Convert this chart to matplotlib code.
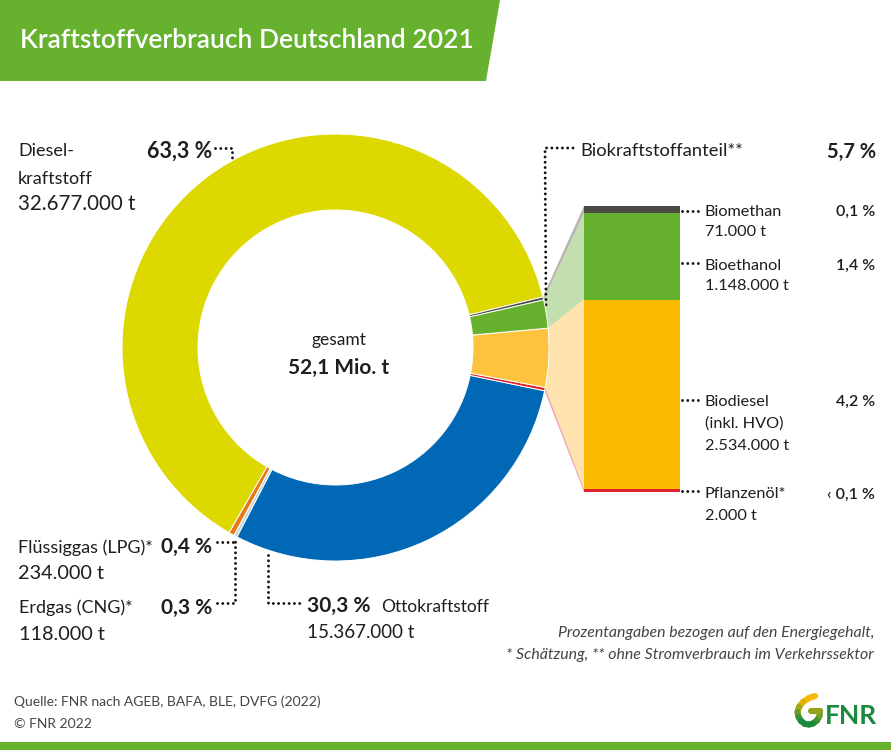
import numpy as np
import matplotlib.pyplot as plt
from matplotlib.collections import LineCollection
from matplotlib.colors import to_rgb

# Shares of the ring as drawn in the picture (percent of the circle)
ring_names = ['Diesel', 'LPG', 'CNG', 'Otto', 'Pflanzenoel', 'Biodiesel', 'Bioethanol', 'Biomethan']
ring_shares = [62.86, 0.42, 0.25, 29.36, 0.25, 4.44, 2.14, 0.22]
ring_colors = ['#DCD800', '#E67817', '#C3D8D6', '#0068B4', '#E2232B', '#FDC23E', '#66B22E', '#4A4A45']

# Bar on the right, top to bottom, heights as drawn
bar_names = ['Biomethan', 'Bioethanol', 'Biodiesel', 'Pflanzenoel']
bar_values = [95000, 1148000, 2510000, 40000]
bar_colors = ['#4A4A45', '#66B22E', '#FCBA00', '#E2232B']

GREEN = '#66B22E'
TEXT = '#1E1E1E'
W, H = 891, 750
CX, CY, R_OUT, R_IN = 335.5, 347.5, 213.5, 137.5
START = 13.7
BAR_L, BAR_R, BAR_T, BAR_B = 584, 680, 206, 492

plt.rcParams['font.family'] = ['Lato', 'DejaVu Sans']

fig = plt.figure(figsize=(W / 100, H / 100), dpi=100, facecolor='white')
ax = fig.add_axes([0, 0, 1, 1])
ax.set_xlim(0, W)
ax.set_ylim(H, 0)
ax.axis('off')

# Title banner and footer
ax.fill([0, 500, 486, 0], [0, 0, 81, 81], color=GREEN, lw=0)
ax.fill([0, W, W, 0], [742, 742, H, H], color=GREEN, lw=0)
ax.text(20, 40, 'Kraftstoffverbrauch Deutschland 2021', color='white', fontsize=19,
        fontweight='semibold', va='center')

# Ring
size = 2 * R_OUT * 1.25
pie_ax = fig.add_axes([(CX - size / 2) / W, 1 - (CY + size / 2) / H, size / W, size / H])
pie_ax.pie(ring_shares, colors=ring_colors, startangle=START, counterclock=True, radius=1,
           wedgeprops=dict(width=1 - R_IN / R_OUT, edgecolor='white', linewidth=0.7))
pie_ax.set_xlim(-1.25, 1.25)
pie_ax.set_ylim(-1.25, 1.25)

# Bar
bar_ax = fig.add_axes([BAR_L / W, 1 - BAR_B / H, (BAR_R - BAR_L) / W, (BAR_B - BAR_T) / H])
bottom = 0
bar_edges = [0]
for value, color in zip(bar_values, bar_colors):
    bar_ax.bar(0, value, bottom=bottom, width=1, color=color, lw=0)
    bottom += value
    bar_edges.append(bottom)
bar_ax.set_xlim(-0.5, 0.5)
bar_ax.set_ylim(bottom, 0)
bar_ax.axis('off')


def bar_y(v):
    return BAR_T + (BAR_B - BAR_T) * v / bottom


# Connectors between ring and bar, taken from the slice angles and bar edges
total = sum(ring_shares)
ends = START + np.cumsum(ring_shares) * 360 / total
a_bm0, a_bm1 = ends[6], ends[7]
a_et0 = ends[5]
a_bd0 = ends[4]
a_pf0 = ends[3]


def arc(a0, a1):
    t = np.radians(np.linspace(a0, a1, 30))
    return CX + R_OUT * np.cos(t), CY - R_OUT * np.sin(t)


def link(a0, a1, y0, y1, color):
    # a0 is the lower angle, y0 the lower end on the bar
    x, y = arc(a0, a1)
    ax.fill(list(x) + [BAR_L, BAR_L], list(y) + [y1, y0], color=color, lw=0, zorder=1)


link(a_et0, a_bm0, bar_y(bar_edges[2]), bar_y(bar_edges[1]), '#C3DFAF')
link(a_bd0, a_et0, bar_y(bar_edges[3]), bar_y(bar_edges[2]), '#FEE3AE')
link(a_pf0, a_bd0, bar_y(bar_edges[4]), bar_y(bar_edges[3]), '#F2A6B0')
link(a_bm0, a_bm1, bar_y(bar_edges[1]), bar_y(bar_edges[0]), '#B5B5B0')


def dots(xs, ys):
    ax.plot(xs, ys, color='#111111', lw=2.1, linestyle=(0, (0.01, 1.8)),
            dash_capstyle='round', zorder=5)


dots([215, 232, 232], [148, 148, 158])
dots([573, 545, 546], [148, 148, 305])
dots([682, 703], [211, 211])
dots([682, 703], [263, 263])
dots([682, 703], [400, 400])
dots([682, 703], [491, 491])
dots([217, 233], [542, 542])
dots([217, 235, 235], [603, 603, 540])
dots([268, 268, 301], [555, 603, 603])


def label(x, y, s, size=13, weight='normal', ha='left', color=TEXT, **kw):
    ax.text(x, y + 1.5, s, fontsize=size, fontweight=weight, ha=ha, va='center', color=color, **kw)


label(18, 150, 'Diesel-')
label(18, 177, 'kraftstoff')
label(18, 203, '32.677.000 t', 14.8)
label(147, 150, '63,3 %', 15.5, 'bold')

label(580, 150, 'Biokraftstoffanteil**', 13.2)
label(876, 150, '5,7 %', 14.5, 'bold', ha='right')

label(705, 210, 'Biomethan', 11.7)
label(705, 231, '71.000 t', 11.7)
label(875, 210, '0,1 %', 11.5, 'semibold', ha='right')
label(705, 264, 'Bioethanol', 11.7)
label(705, 285, '1.148.000 t', 11.7)
label(875, 264, '1,4 %', 11.5, 'semibold', ha='right')
label(705, 400, 'Biodiesel', 11.7)
label(705, 422, '(inkl. HVO)', 11.7)
label(705, 444, '2.534.000 t', 11.7)
label(875, 400, '4,2 %', 11.5, 'semibold', ha='right')
label(705, 493, 'Pflanzenöl*', 11.7)
label(705, 515, '2.000 t', 11.7)
label(875, 493, '‹ 0,1 %', 11.5, 'semibold', ha='right')

label(338.5, 338, 'gesamt', 12.5, ha='center')
label(338.5, 366, '52,1 Mio. t', 15, 'bold', ha='center')

label(18, 546, 'Flüssiggas (LPG)*')
label(18, 572, '234.000 t', 14.3)
label(161, 545, '0,4 %', 15, 'bold')
label(19, 606, 'Erdgas (CNG)*')
label(19, 633, '118.000 t', 14.3)
label(161, 606, '0,3 %', 15, 'bold')
label(307, 604, '30,3 %', 15, 'bold')
label(381, 605, 'Ottokraftstoff', 12.5)
label(307, 631, '15.367.000 t', 13.5)

label(874, 631, 'Prozentangaben bezogen auf den Energiegehalt,', 11.4, ha='right',
      style='italic', color='#444444')
label(874, 653, '* Schätzung, ** ohne Stromverbrauch im Verkehrssektor', 11.4, ha='right',
      style='italic', color='#444444')
label(14, 700, 'Quelle: FNR nach AGEB, BAFA, BLE, DVFG (2022)', 10, color='#444444')
label(14, 722, '© FNR 2022', 10, color='#444444')

# Logo: hook drawn with a yellow to green gradient
hook_x = [815, 809, 803, 799, 797.5, 798.5, 801, 805, 809, 813, 817, 819.5, 820, 815, 811]
hook_y = [696, 698, 702, 707, 712, 717, 721, 724, 724.5, 723.5, 720.5, 716, 711, 711, 711]
pts = np.column_stack([hook_x, hook_y])
segs = np.stack([pts[:-1], pts[1:]], axis=1)
top, low = np.array(to_rgb('#F5B700')), np.array(to_rgb('#1A8A3C'))
mix = np.clip((segs[:, :, 1].mean(axis=1) - 702) / 20, 0, 1)[:, None]
ax.add_collection(LineCollection(segs, colors=top * (1 - mix) + low * mix, linewidths=4.4,
                                 capstyle='round', zorder=4))
label(825, 715, 'FNR', 19, 'bold', color='#1A8A3C')

fig.savefig('out.png', dpi=100)
